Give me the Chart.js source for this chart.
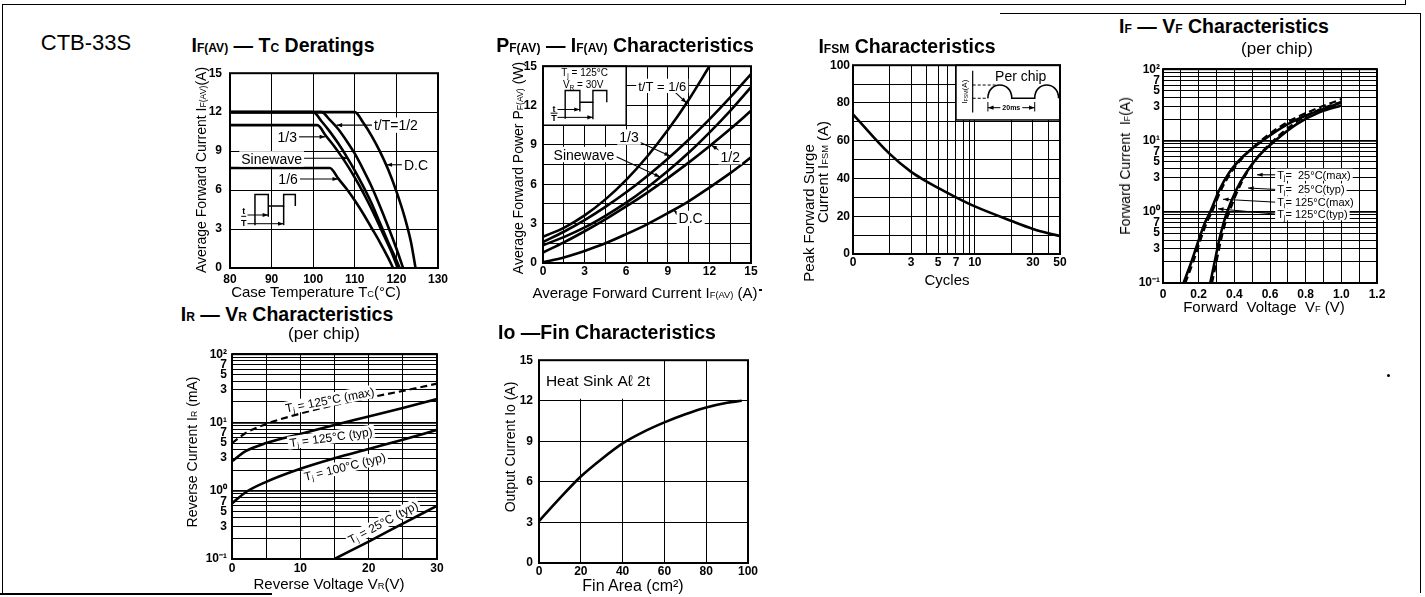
<!DOCTYPE html>
<html>
<head>
<meta charset="utf-8">
<title>CTB-33S characteristics</title>
<script src="https://cdn.jsdelivr.net/npm/chart.js@4.4.1/dist/chart.umd.min.js"></script>
<style>
  html, body { margin: 0; padding: 0; background: #fff; }
  body { position: relative; width: 1425px; height: 597px; overflow: hidden;
         font-family: "Liberation Sans", Arial, Helvetica, sans-serif; color: #000; }
  canvas { position: absolute; }
  .t { position: absolute; white-space: nowrap; line-height: 1; transform: translate(-50%, -50%); }
  .v { transform: translate(-50%, -50%) rotate(-90deg); }
  .h { font-weight: bold; font-size: 19.5px; }
  .a { font-size: 15px; }
  .ay { font-size: 14px; }
  .s { font-size: 0.62em; }
  .ln { position: absolute; background: #000; }
</style>
</head>
<body>
<!-- page frame -->
<div class="ln" style="left:2px;top:4px;width:1403px;height:1px"></div>
<div class="ln" style="left:1405px;top:0;width:1px;height:5px"></div>
<div class="ln" style="left:1000px;top:13px;width:421px;height:1px"></div>
<div class="ln" style="left:2px;top:4px;width:1px;height:589px"></div>
<div class="ln" style="left:1420px;top:13px;width:1px;height:580px"></div>
<div class="ln" style="left:0;top:593px;width:272px;height:2px"></div>

<canvas id="c1"></canvas>
<canvas id="c2"></canvas>
<canvas id="c3"></canvas>
<canvas id="c4"></canvas>
<canvas id="c5"></canvas>
<canvas id="c6"></canvas>

<div class="t" style="left:86px;top:43px;font-size:22px">CTB-33S</div>

<div class="t h" style="left:283px;top:46px">I<span class="s">F(AV)</span> — T<span class="s">C</span> Deratings</div>
<div class="t ay v" style="left:201px;top:170px">Average Forward Current I<span class="s">F(AV)</span>(A)</div>
<div class="t a" style="left:316px;top:292px">Case Temperature T<span class="s">C</span>(°C)</div>

<div class="t h" style="left:625px;top:46px">P<span class="s">F(AV)</span> — I<span class="s">F(AV)</span> Characteristics</div>
<div class="t ay v" style="left:518px;top:168px">Average Forward Power P<span class="s">F(AV)</span> (W)</div>
<div class="t a" style="left:645px;top:293px">Average Forward Current I<span class="s">F(AV)</span> (A)</div>

<div class="t h" style="left:907px;top:47px">I<span class="s">FSM</span> Characteristics</div>
<div class="t a v" style="left:808px;top:213px">Peak Forward Surge</div>
<div class="t a v" style="left:823px;top:172px">Current I<span class="s">FSM</span> (A)</div>
<div class="t a" style="left:947px;top:279px">Cycles</div>

<div class="t h" style="left:1224px;top:27px">I<span class="s">F</span> — V<span class="s">F</span> Characteristics</div>
<div class="t a" style="left:1277px;top:48px;font-size:17px">(per chip)</div>
<div class="t ay v" style="left:1125px;top:166px">Forward Current &nbsp;I<span class="s">F</span>(A)</div>
<div class="t a" style="left:1264px;top:307px">Forward &nbsp;Voltage &nbsp;V<span class="s">F</span> (V)</div>

<div class="t h" style="left:287px;top:315px">I<span class="s">R</span> — V<span class="s">R</span> Characteristics</div>
<div class="t a" style="left:324px;top:333px;font-size:17px">(per chip)</div>
<div class="t ay v" style="left:192px;top:452px">Reverse Current I<span class="s">R</span> (mA)</div>
<div class="t a" style="left:329px;top:584px">Reverse Voltage V<span class="s">R</span>(V)</div>

<div class="t h" style="left:607px;top:333px">Io —Fin Characteristics</div>
<div class="t ay v" style="left:510px;top:447px">Output Current Io (A)</div>
<div class="t a" style="left:633px;top:586px;font-size:16px">Fin Area (cm²)</div>

<div class="ln" style="left:759px;top:289px;width:3px;height:2px"></div>
<div class="ln" style="left:1387px;top:374px;width:3px;height:3px;border-radius:2px"></div>

<script>
// ---- data ---------------------------------------------------------------

// IF(AV) - Tc deratings: [case temperature °C, average forward current A]
const deratingDC   = [[80, 12], [110, 12], [112, 11.2], [114, 10.2], [116, 9.0], [118, 7.6], [120, 5.9], [122, 3.9], [123.5, 2.0], [124.6, 0]];
const derating12   = [[80, 12], [102, 12], [104, 11.4], [106, 10.7], [108, 9.8], [110, 8.8], [112, 7.6], [114, 6.3], [116, 4.8], [118, 3.2], [120, 1.5], [121.6, 0]];
const deratingSine = [[80, 12], [100, 12], [102, 11.3], [104, 10.5], [106, 9.6], [108, 8.6], [110, 7.5], [112, 6.3], [114, 5.0], [116, 3.5], [118, 2.0], [120, 0.6], [120.8, 0]];
const derating13   = [[80, 11], [101, 11], [103, 10.2], [105, 9.4], [107, 8.5], [109, 7.5], [111, 6.4], [113, 5.2], [115, 3.9], [117, 2.5], [119, 1.1], [120.3, 0]];
const derating16   = [[80, 7.7], [104, 7.7], [106, 6.9], [108, 6.1], [110, 5.2], [112, 4.2], [114, 3.1], [116, 2.0], [118, 0.8], [119.2, 0]];
const tcTicks   = [80, 90, 100, 110, 120, 130];
const ifavTicks = [0, 3, 6, 9, 12, 15];

// PF(AV) - IF(AV): power (W) at each average current (A)
const pfCurrent = [0, 1.5, 3, 4.5, 6, 7.5, 9, 10.5, 12, 13.5, 15];
const pfDC   = [0.05, 0.42, 0.92, 1.5, 2.2, 2.95, 3.8, 4.7, 5.75, 6.85, 8.05];
const pf12   = [0.8, 1.57, 2.42, 3.33, 4.31, 5.35, 6.47, 7.65, 8.9, 10.21, 11.6];
const pfSine = [1.35, 1.97, 2.71, 3.6, 4.6, 5.74, 7.01, 8.4, 9.94, 11.6, 13.4];
const pf13   = [1.6, 2.38, 3.27, 4.28, 5.39, 6.62, 7.95, 9.39, 10.95, 12.62, 14.4];
const pf16   = [2.0, 2.68, 3.63, 4.85, 6.34, 8.1, 10.13, 12.43, 15.0];
const pfGrid   = [0, 1.5, 3, 4.5, 6, 7.5, 9, 10.5, 12, 13.5, 15];
const pfLabels = [0, 3, 6, 9, 12, 15];

// IFSM - cycles
const ifsmCycles = [1, 2, 3, 4, 5, 7, 10, 20, 30, 40, 50];
const ifsmPeak   = [74, 53, 43.5, 38.5, 35, 30, 25.2, 17.5, 13.3, 11, 9.5];
const cycleGrid   = [1, 2, 3, 4, 5, 6, 7, 8, 9, 10, 20, 30, 40, 50];
const cycleLabels = { 1: '0', 3: '3', 5: '5', 7: '7', 10: '10', 30: '30', 50: '50' };
const ifsmGrid   = [0, 10, 20, 30, 40, 50, 60, 70, 80, 90, 100];
const ifsmLabels = [0, 20, 40, 60, 80, 100];

// IF - VF (per chip): [forward voltage V, forward current A]
const vf125Typ = [[0.115, 0.1], [0.16, 0.2], [0.2, 0.4], [0.235, 0.7], [0.265, 1], [0.315, 2], [0.37, 3.5], [0.45, 6], [0.56, 10], [0.7, 17], [0.85, 25], [1.0, 34]];
const vf125Max = [[0.125, 0.1], [0.17, 0.2], [0.21, 0.4], [0.245, 0.7], [0.275, 1], [0.325, 2], [0.38, 3.5], [0.455, 6], [0.55, 10], [0.68, 17], [0.83, 26], [1.0, 38]];
const vf25Typ  = [[0.265, 0.1], [0.29, 0.2], [0.315, 0.4], [0.34, 0.7], [0.36, 1], [0.41, 2], [0.465, 3.5], [0.535, 6], [0.63, 10], [0.75, 17], [0.88, 25], [1.0, 31]];
const vf25Max  = [[0.275, 0.1], [0.3, 0.2], [0.325, 0.4], [0.35, 0.7], [0.372, 1], [0.42, 2], [0.47, 3.5], [0.535, 6], [0.62, 10], [0.73, 17], [0.86, 26], [1.0, 35]];
const vfGrid   = [0, 0.1, 0.2, 0.3, 0.4, 0.5, 0.6, 0.7, 0.8, 0.9, 1, 1.1, 1.2];
const vfLabels = { 0: '0', 0.2: '0.2', 0.4: '0.4', 0.6: '0.6', 0.8: '0.8', 1: '1.0', 1.2: '1.2' };

// shared 3-decade log grid (0.1 .. 100)
const logGrid = [0.1, 0.2, 0.3, 0.4, 0.5, 0.6, 0.7, 0.8, 0.9, 1, 2, 3, 4, 5, 6, 7, 8, 9, 10, 20, 30, 40, 50, 60, 70, 80, 90, 100];
const logLabels = { 0.1: '10⁻¹', 0.3: '3', 0.5: '5', 0.7: '7', 1: '10⁰', 3: '3', 5: '5', 7: '7', 10: '10¹', 30: '3', 50: '5', 70: '7', 100: '10²' };
const decades = [0.1, 1, 10, 100];

// IR - VR (per chip): reverse current (mA) at reverse voltage (V)
const vrVolts  = [0, 2, 5, 10, 15, 20, 25, 30];
const ir125Max = [5.0, 7.0, 9.5, 13.5, 18, 23, 29, 37];
const ir125Typ = [2.7, 3.8, 5.0, 6.8, 9.2, 12.2, 16.3, 22];
const ir100Typ = [0.65, 0.95, 1.35, 2.1, 3.0, 4.1, 5.6, 7.8];
const vr25Volts = [15, 20, 25, 30];
const ir25Typ   = [0.1, 0.18, 0.33, 0.6];
const vrGrid   = [0, 5, 10, 15, 20, 25, 30];
const vrLabels = [0, 10, 20, 30];

// Io - fin area
const finArea   = [0, 10, 20, 30, 40, 50, 60, 70, 80, 90, 97];
const ioCurrent = [3.1, 4.8, 6.4, 7.7, 8.85, 9.7, 10.4, 11.0, 11.5, 11.85, 12.0];
const finGrid = [0, 20, 40, 60, 80, 100];
const ioGrid  = [0, 3, 6, 9, 12, 15];

// ---- helpers ------------------------------------------------------------

const FONT = '"Liberation Sans", Arial, Helvetica, sans-serif';
Chart.defaults.font.family = FONT;
Chart.defaults.color = '#000';

const AXW = 50, PT = 10, PR = 18, AXH = 26;

function pairs(xs, ys) { return ys.map((y, i) => [xs[i], y]); }

function series(points, dashed) {
    return {
        data: points.map(p => ({ x: p[0], y: p[1] })),
        showLine: true,
        borderColor: '#000',
        borderWidth: dashed ? 2.2 : 2.6,
        borderDash: dashed ? [7, 4] : [],
        pointRadius: 0,
        tension: 0.4,
        cubicInterpolationMode: 'monotone',
        fill: false
    };
}

function axis(a, isX) {
    return {
        type: a.type || 'linear',
        min: a.min,
        max: a.max,
        afterBuildTicks: s => { s.ticks = a.grid.map(v => ({ value: v })); },
        afterFit: s => { if (isX) s.height = AXH; else s.width = AXW; },
        grid: {
            color: '#000',
            lineWidth: c => (a.major && c.tick && a.major.includes(c.tick.value)) ? 1.7 : 1,
            drawTicks: false
        },
        border: { display: false },
        ticks: {
            autoSkip: false,
            maxRotation: 0,
            padding: a.pad,
            font: { size: 12, weight: 'bold' },
            callback: v => a.label(v)
        }
    };
}

const framePlugin = {
    id: 'frame',
    afterDraw(chart) {
        const c = chart.ctx, r = chart.chartArea;
        c.save();
        c.strokeStyle = '#000';
        c.lineWidth = 2;
        c.strokeRect(r.left, r.top, r.right - r.left, r.bottom - r.top);
        c.restore();
    }
};
Chart.register(framePlugin);

function P(chart, x, y) {
    return [chart.scales.x.getPixelForValue(x), chart.scales.y.getPixelForValue(y)];
}

function setFont(ctx, size, weight) { ctx.font = (weight || 'normal') + ' ' + size + 'px ' + FONT; }

// text with _subscript_ parts
function rich(ctx, str, x, y, size, align, bg, weight) {
    const parts = str.split('_');
    const sizes = parts.map((p, i) => i % 2 ? size * 0.66 : size);
    const widths = parts.map((p, i) => { setFont(ctx, sizes[i], weight); return ctx.measureText(p).width; });
    const w = widths.reduce((s, v) => s + v, 0);
    let x0 = align === 'center' ? x - w / 2 : (align === 'right' ? x - w : x);
    if (bg) {
        ctx.fillStyle = '#fff';
        ctx.fillRect(x0 - 2, y - size * 0.55, w + 4, size * 1.1);
    }
    ctx.fillStyle = '#000';
    ctx.textAlign = 'left';
    ctx.textBaseline = 'alphabetic';
    parts.forEach((p, i) => {
        setFont(ctx, sizes[i], weight);
        ctx.fillText(p, x0, y + size * 0.36 + (i % 2 ? size * 0.14 : 0));
        x0 += widths[i];
    });
}

function richRot(ctx, str, x, y, size, deg, bg) {
    ctx.save();
    ctx.translate(x, y);
    ctx.rotate(deg * Math.PI / 180);
    rich(ctx, str, 0, 0, size, 'center', bg);
    ctx.restore();
}

function arrow(ctx, x1, y1, x2, y2, head) {
    ctx.beginPath();
    ctx.moveTo(x1, y1);
    ctx.lineTo(x2, y2);
    ctx.stroke();
    if (head === false) return;
    const a = Math.atan2(y2 - y1, x2 - x1), L = 6;
    ctx.beginPath();
    ctx.moveTo(x2, y2);
    ctx.lineTo(x2 - L * Math.cos(a - 0.35), y2 - L * Math.sin(a - 0.35));
    ctx.lineTo(x2 - L * Math.cos(a + 0.35), y2 - L * Math.sin(a + 0.35));
    ctx.closePath();
    ctx.fill();
}

// label in data coords, optional leader [x1, y1, x2, y2] with arrow head at x2/y2
function note(chart, text, x, y, align, size, lead) {
    const ctx = chart.ctx;
    ctx.strokeStyle = '#000';
    ctx.fillStyle = '#000';
    ctx.lineWidth = 1.1;
    if (lead) {
        const a = P(chart, lead[0], lead[1]), b = P(chart, lead[2], lead[3]);
        arrow(ctx, a[0], a[1], b[0], b[1]);
    }
    if (!text) return;
    const p = P(chart, x, y);
    rich(ctx, text, p[0], p[1], size, align, true);
}

function poly(chart, pts) {
    const ctx = chart.ctx;
    ctx.beginPath();
    pts.forEach((q, i) => {
        const p = P(chart, q[0], q[1]);
        if (i) ctx.lineTo(p[0], p[1]); else ctx.moveTo(p[0], p[1]);
    });
    ctx.stroke();
}

function whiteBox(chart, x1, y1, x2, y2, stroke) {
    const ctx = chart.ctx, a = P(chart, x1, y1), b = P(chart, x2, y2);
    ctx.save();
    ctx.fillStyle = '#fff';
    ctx.fillRect(a[0], a[1], b[0] - a[0], b[1] - a[1]);
    if (stroke) {
        ctx.strokeStyle = '#000';
        ctx.lineWidth = 1.5;
        ctx.strokeRect(a[0], a[1], b[0] - a[0], b[1] - a[1]);
    }
    ctx.restore();
}

function makeChart(id, left, top, w, h, xAxis, yAxis, datasets, notes) {
    const cv = document.getElementById(id);
    cv.width = AXW + w + PR;
    cv.height = PT + h + AXH;
    cv.style.left = (left - AXW) + 'px';
    cv.style.top = (top - PT) + 'px';
    return new Chart(cv, {
        type: 'scatter',
        data: { datasets: datasets },
        options: {
            responsive: false,
            animation: false,
            devicePixelRatio: 1,
            layout: { padding: { left: 0, top: PT, right: PR, bottom: 0 } },
            plugins: { legend: { display: false }, tooltip: { enabled: false } },
            scales: { x: axis(xAxis, true), y: axis(yAxis, false) }
        },
        plugins: notes ? [Object.assign({ id: id + 'notes' }, notes)] : []
    });
}

// ---- IF(AV) - Tc deratings ----------------------------------------------
makeChart('c1', 230, 68, 208, 200,
    { min: 80, max: 130, grid: tcTicks, label: v => v, pad: 4 },
    { min: 0, max: 15, grid: ifavTicks, label: v => v, pad: 8 },
    [series(deratingDC), series(derating12), series(deratingSine), series(derating13), series(derating16)],
    {
        afterDatasetsDraw(chart) {
            const ctx = chart.ctx;
            ctx.save();
            note(chart, 't/T=1/2', 114.6, 11.0, 'left', 14, [114.4, 11.0, 105.6, 11.0]);
            note(chart, '1/3', 96.1, 10.1, 'right', 14, [96.6, 10.1, 102.9, 10.1]);
            note(chart, 'Sinewave', 97.3, 8.4, 'right', 14, [97.8, 8.45, 108.4, 8.45]);
            note(chart, '1/6', 96.3, 6.85, 'right', 14, [96.8, 6.85, 106.0, 6.85]);
            note(chart, 'D.C', 121.8, 7.95, 'left', 14, [121.5, 7.95, 117.6, 7.95]);
            // duty-cycle sketch
            ctx.lineWidth = 1.5;
            poly(chart, [[86, 3.3], [86, 5.66], [89.2, 5.66], [89.2, 3.95]]);
            poly(chart, [[89.2, 4.78], [92.9, 4.78], [92.9, 5.66], [95.7, 5.66], [95.7, 4.78]]);
            poly(chart, [[92.9, 4.78], [92.9, 3.3]]);
            ctx.lineWidth = 1;
            let a = P(chart, 84.2, 4.08), b = P(chart, 89.2, 4.08);
            arrow(ctx, a[0], a[1], b[0], b[1]);
            a = P(chart, 84.2, 3.41); b = P(chart, 92.9, 3.41);
            arrow(ctx, a[0], a[1], b[0], b[1]);
            poly(chart, [[82.7, 3.98], [83.9, 3.98]]);
            a = P(chart, 83.3, 4.4); rich(ctx, 't', a[0], a[1], 9, 'center', false, 'bold');
            a = P(chart, 83.3, 3.5); rich(ctx, 'T', a[0], a[1], 9, 'center', false, 'bold');
            ctx.restore();
        }
    });

// ---- PF(AV) - IF(AV) ----------------------------------------------------
makeChart('c2', 543, 63, 208, 200,
    { min: 0, max: 15, grid: pfGrid, label: v => pfLabels.includes(v) ? v : '', pad: 1 },
    { min: 0, max: 15, grid: pfGrid, label: v => pfLabels.includes(v) ? v : '', pad: 6 },
    [series(pairs(pfCurrent, pfDC)), series(pairs(pfCurrent, pf12)), series(pairs(pfCurrent, pfSine)),
     series(pairs(pfCurrent, pf13)), series(pairs(pfCurrent, pf16))],
    {
        beforeDatasetsDraw(chart) { whiteBox(chart, 0, 15, 6, 10.5, true); },
        afterDatasetsDraw(chart) {
            const ctx = chart.ctx;
            ctx.save();
            note(chart, '', 0, 0, 'left', 1, [9.5, 13.05, 10.35, 12.2]);
            note(chart, 't/T = 1/6', 8.6, 13.5, 'center', 13, null);
            note(chart, '1/3', 6.2, 9.6, 'center', 14, [6.9, 9.25, 9.16, 8.15]);
            note(chart, 'Sinewave', 2.95, 8.27, 'center', 14, [5.3, 8.1, 8.44, 6.55]);
            note(chart, '1/2', 13.5, 8.1, 'center', 14, [12.9, 8.45, 12.15, 8.98]);
            note(chart, 'D.C', 10.65, 3.4, 'center', 14, [9.95, 3.55, 9.4, 4.05]);
            // inset: conditions and waveform
            let a = P(chart, 3.0, 14.5); rich(ctx, 'T_j_ = 125°C', a[0], a[1], 10, 'center', false);
            a = P(chart, 2.9, 13.6); rich(ctx, 'V_R_ = 30V', a[0], a[1], 10, 'center', false);
            ctx.lineWidth = 1.4;
            poly(chart, [[1.6, 11.0], [1.6, 13.15], [2.66, 13.15], [2.66, 11.55]]);
            poly(chart, [[2.66, 12.25], [3.6, 12.25], [3.6, 13.15], [4.6, 13.15], [4.6, 12.25]]);
            poly(chart, [[3.6, 12.25], [3.6, 10.95]]);
            ctx.lineWidth = 1;
            a = P(chart, 1.05, 11.7); let b = P(chart, 2.66, 11.7);
            arrow(ctx, a[0], a[1], b[0], b[1]);
            a = P(chart, 1.05, 11.1); b = P(chart, 3.6, 11.1);
            arrow(ctx, a[0], a[1], b[0], b[1]);
            poly(chart, [[0.55, 11.42], [1.05, 11.42]]);
            a = P(chart, 0.8, 11.75); rich(ctx, 't', a[0], a[1], 9, 'center', false, 'bold');
            a = P(chart, 0.8, 11.05); rich(ctx, 'T', a[0], a[1], 9, 'center', false, 'bold');
            ctx.restore();
        }
    });

// ---- IFSM ---------------------------------------------------------------
makeChart('c3', 853, 65, 207, 189,
    { type: 'logarithmic', min: 1, max: 50, grid: cycleGrid, label: v => cycleLabels[v] || '', pad: 1 },
    { min: 0, max: 100, grid: ifsmGrid, label: v => ifsmLabels.includes(v) ? v : '', pad: 3 },
    [series(pairs(ifsmCycles, ifsmPeak))],
    {
        beforeDatasetsDraw(chart) { whiteBox(chart, 7, 100, 50, 71, true); },
        afterDatasetsDraw(chart) {
            const ctx = chart.ctx, r = chart.chartArea;
            ctx.save();
            ctx.beginPath();
            ctx.rect(r.left, r.top, r.right - r.left, r.bottom - r.top);
            ctx.clip();
            ctx.strokeStyle = '#000';
            ctx.fillStyle = '#000';
            let a = P(chart, 8.1, 86);
            richRot(ctx, 'I_FSM_(A)', a[0], a[1], 8, -90, false);
            ctx.lineWidth = 1.2;
            poly(chart, [[9.6, 97], [9.6, 75]]);
            const base = P(chart, 1, 82.5)[1], peak = P(chart, 1, 89.5)[1];
            const x0 = P(chart, 12.8, 0)[0], x1 = P(chart, 20.1, 0)[0];
            const x2 = P(chart, 31, 0)[0], x3 = x2 + (x1 - x0);
            const lift = (base - peak) * 4 / 3;
            ctx.setLineDash([3, 2]);
            ctx.lineWidth = 1;
            ctx.beginPath();
            ctx.moveTo(P(chart, 9.6, 0)[0], peak); ctx.lineTo(x0 + 8, peak);
            ctx.moveTo(P(chart, 9.6, 0)[0], base); ctx.lineTo(x0, base);
            ctx.stroke();
            ctx.setLineDash([]);
            ctx.lineWidth = 1.6;
            ctx.beginPath();
            ctx.moveTo(x0, base);
            ctx.bezierCurveTo(x0, base - lift, x1, base - lift, x1, base);
            ctx.lineTo(x2, base);
            ctx.bezierCurveTo(x2, base - lift, x3, base - lift, x3, base);
            ctx.stroke();
            ctx.lineWidth = 1;
            const by = P(chart, 1, 77.5)[1];
            ctx.beginPath();
            ctx.moveTo(x0, P(chart, 1, 80.5)[1]); ctx.lineTo(x0, P(chart, 1, 75.5)[1]);
            ctx.moveTo(x2, P(chart, 1, 80.5)[1]); ctx.lineTo(x2, P(chart, 1, 75.5)[1]);
            ctx.stroke();
            arrow(ctx, (x0 + x2) / 2, by, x0, by);
            arrow(ctx, (x0 + x2) / 2, by, x2, by);
            rich(ctx, '20ms', (x0 + x2) / 2, by, 7, 'center', true, 'bold');
            a = P(chart, 23.8, 94.5);
            rich(ctx, 'Per chip', a[0], a[1], 14, 'center', false);
            ctx.restore();
        }
    });

// ---- IF - VF ------------------------------------------------------------
makeChart('c4', 1163, 69, 214, 214,
    { min: 0, max: 1.2, grid: vfGrid, label: v => vfLabels[v] || '', pad: 4 },
    { type: 'logarithmic', min: 0.1, max: 100, grid: logGrid, major: decades, label: v => logLabels[v] || '', pad: 3 },
    [series(vf125Typ), series(vf125Max, true), series(vf25Typ), series(vf25Max, true)],
    {
        afterDatasetsDraw(chart) {
            const ctx = chart.ctx;
            ctx.save();
            note(chart, 'T_j_=  25°C(max)', 0.64, 3.3, 'left', 11, [0.64, 3.3, 0.527, 3.3]);
            note(chart, 'T_j_=  25°C(typ)', 0.64, 2.05, 'left', 11, [0.64, 2.05, 0.477, 2.15]);
            note(chart, 'T_j_= 125°C(max)', 0.64, 1.36, 'left', 11, [0.64, 1.36, 0.336, 1.5]);
            note(chart, 'T_j_= 125°C(typ)', 0.64, 0.92, 'left', 11, [0.64, 0.92, 0.308, 1.1]);
            ctx.restore();
        }
    });

// ---- IR - VR ------------------------------------------------------------
makeChart('c5', 232, 352, 205, 207,
    { min: 0, max: 30, grid: vrGrid, label: v => vrLabels.includes(v) ? v : '', pad: 2 },
    { type: 'logarithmic', min: 0.1, max: 100, grid: logGrid, major: decades, label: v => logLabels[v] || '', pad: 5 },
    [series(pairs(vrVolts, ir125Max), true), series(pairs(vrVolts, ir125Typ)),
     series(pairs(vrVolts, ir100Typ)), series(pairs(vr25Volts, ir25Typ))],
    {
        afterDatasetsDraw(chart) {
            const ctx = chart.ctx;
            ctx.save();
            let a = P(chart, 14.3, 21.5); richRot(ctx, 'T_j_ = 125°C (max)', a[0], a[1], 12, -11, true);
            a = P(chart, 14.5, 6.1); richRot(ctx, 'T_j_ = 125°C (typ)', a[0], a[1], 12, -8, true);
            a = P(chart, 16.5, 2.25); richRot(ctx, 'T_j_ = 100°C (typ)', a[0], a[1], 12, -14, true);
            a = P(chart, 22.1, 0.345); richRot(ctx, 'T_j_ = 25°C (typ)', a[0], a[1], 12, -28, true);
            ctx.restore();
        }
    });

// ---- Io - fin area ------------------------------------------------------
makeChart('c6', 539, 357, 209, 206,
    { min: 0, max: 100, grid: finGrid, label: v => v, pad: 1 },
    { min: 0, max: 15, grid: ioGrid, label: v => v, pad: 6 },
    [series(pairs(finArea, ioCurrent))],
    {
        beforeDatasetsDraw(chart) { whiteBox(chart, 0, 15, 57, 12.15, false); },
        afterDatasetsDraw(chart) {
            const ctx = chart.ctx;
            ctx.save();
            const a = P(chart, 3.3, 13.5);
            rich(ctx, 'Heat Sink Aℓ 2t', a[0], a[1], 15.5, 'left', false);
            ctx.restore();
        }
    });
</script>
</body>
</html>
